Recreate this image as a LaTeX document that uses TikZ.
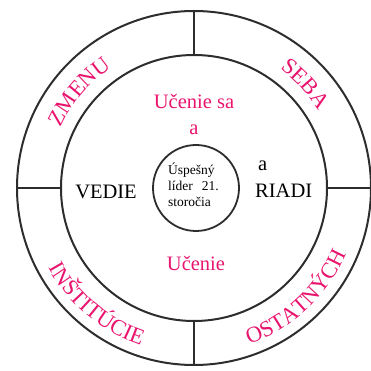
\documentclass[tikz,border=0pt]{standalone}
\usepackage{fontspec}
\setmainfont{Liberation Serif}
\usetikzlibrary{decorations.text}
\definecolor{pinkred}{RGB}{233,20,110}
\definecolor{ringgray}{RGB}{45,45,45}
\tikzset{
  ring/.style={draw=ringgray, line width=2pt},
  spoke/.style={draw=ringgray, line width=2.2pt},
  bigtxt/.style={font=\fontsize{20.5}{22}\selectfont, inner sep=0pt, anchor=base},
  pinktxt/.style={bigtxt, text=pinkred},
  curvetxt/.style={font=\fontsize{22.5}{22.5}\selectfont, decorate, decoration={text along path, text align=center,
     text={|\fontsize{22.5}{22.5}\selectfont\color{pinkred}|#1}}}
}
\begin{document}
\begin{tikzpicture}[x=1pt,y=1pt]
\useasboundingbox (-194,-183) rectangle (177,188);
% rings
\draw[ring] (0,0) circle (177);
\draw[ring] (0,0) circle (133);
\draw[ring, line width=1.8pt] (2,0) circle (43);
% spokes
\draw[spoke] (90:133) -- (90:177);
\draw[spoke] (-90:133) -- (-90:177);
\draw[spoke] (180:133) -- (180:177);
\draw[spoke] (0:133) -- (0:177);
% inner texts
\node[pinktxt] (ucsa) at (0,79) {Učenie sa};
\node[pinktxt] (a1) at (0,53) {a};
\node[pinktxt] (uc) at (2,-82) {Učenie};
\node[bigtxt] (vedie) at (-88,-11) {VEDIE};
\node[bigtxt, anchor=base west] (a2) at (64,17) {a};
\node[bigtxt, anchor=base west] (riadi) at (61,-10) {RIADI};
% center text
\node[font=\fontsize{13.5}{16}\selectfont, anchor=base west, inner sep=0pt] (l1) at (-26,13) {Úspešný};
\node[font=\fontsize{13.5}{16}\selectfont, anchor=base west, inner sep=0pt] (l2) at (-26,-3) {líder\hspace{9pt}21.};
\node[font=\fontsize{13.5}{16}\selectfont, anchor=base west, inner sep=0pt] (l3) at (-26,-19) {storočia};
% curved ring texts
\path[curvetxt=ZMENU] (175:146) arc[start angle=175, end angle=105, radius=146];
\path[curvetxt=SEBA] (78:147) arc[start angle=78, end angle=8, radius=147];
\path[curvetxt=INŠTITÚCIE] (190:166) arc[start angle=190, end angle=270, radius=166];
\path[curvetxt=OSTATNÝCH] (-87:166) arc[start angle=-87, end angle=-7, radius=166];
\end{tikzpicture}
\end{document}
